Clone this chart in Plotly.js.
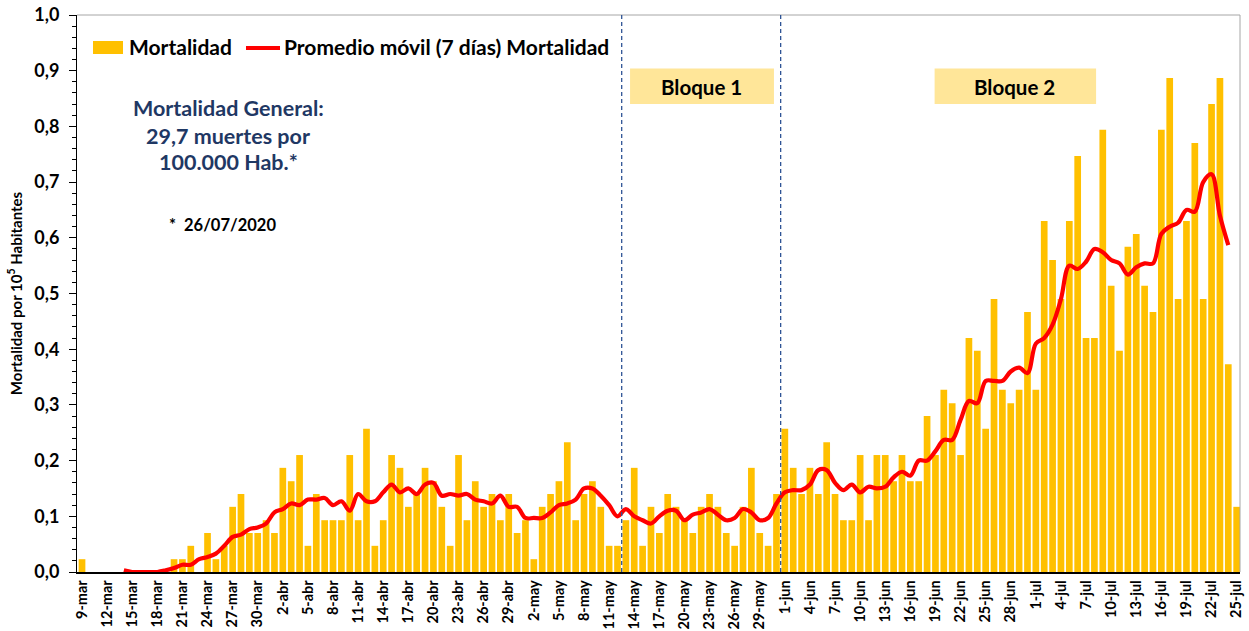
<!DOCTYPE html>
<html>
<head>
<meta charset="utf-8">
<script src="https://cdn.plot.ly/plotly-3.0.1.min.js"></script>
<style>html,body{margin:0;padding:0;background:#fff;}#chart{width:1249px;height:631px;}</style>
</head>
<body>
<div id="chart"></div>
<script>
// Daily categories (9-mar to 25-jul 2020)
const dates = [
 "9-mar","10-mar","11-mar","12-mar","13-mar","14-mar","15-mar","16-mar","17-mar","18-mar","19-mar","20-mar","21-mar","22-mar","23-mar","24-mar","25-mar","26-mar","27-mar","28-mar","29-mar","30-mar","31-mar",
 "1-abr","2-abr","3-abr","4-abr","5-abr","6-abr","7-abr","8-abr","9-abr","10-abr","11-abr","12-abr","13-abr","14-abr","15-abr","16-abr","17-abr","18-abr","19-abr","20-abr","21-abr","22-abr","23-abr","24-abr","25-abr","26-abr","27-abr","28-abr","29-abr","30-abr",
 "1-may","2-may","3-may","4-may","5-may","6-may","7-may","8-may","9-may","10-may","11-may","12-may","13-may","14-may","15-may","16-may","17-may","18-may","19-may","20-may","21-may","22-may","23-may","24-may","25-may","26-may","27-may","28-may","29-may","30-may","31-may",
 "1-jun","2-jun","3-jun","4-jun","5-jun","6-jun","7-jun","8-jun","9-jun","10-jun","11-jun","12-jun","13-jun","14-jun","15-jun","16-jun","17-jun","18-jun","19-jun","20-jun","21-jun","22-jun","23-jun","24-jun","25-jun","26-jun","27-jun","28-jun","29-jun","30-jun",
 "1-jul","2-jul","3-jul","4-jul","5-jul","6-jul","7-jul","8-jul","9-jul","10-jul","11-jul","12-jul","13-jul","14-jul","15-jul","16-jul","17-jul","18-jul","19-jul","20-jul","21-jul","22-jul","23-jul","24-jul","25-jul"
];

// Tick labels shown on the x axis (every 3 days)
const tickLabels = [
 "9-mar","12-mar","15-mar","18-mar","21-mar","24-mar","27-mar","30-mar",
 "2-abr","5-abr","8-abr","11-abr","14-abr","17-abr","20-abr","23-abr","26-abr","29-abr",
 "2-may","5-may","8-may","11-may","14-may","17-may","20-may","23-may","26-may","29-may",
 "1-jun","4-jun","7-jun","10-jun","13-jun","16-jun","19-jun","22-jun","25-jun","28-jun",
 "1-jul","4-jul","7-jul","10-jul","13-jul","16-jul","19-jul","22-jul","25-jul"
];

// Daily mortality per 10^5 inhabitants
const mortalidad = [
 0.023,0,0,0,0,0,0,0,0,0,0,0.023,0.023,0.047,0,0.070,0.023,0.047,0.117,0.140,0.070,0.070,0.093,
 0.070,0.187,0.163,0.210,0.047,0.140,0.093,0.093,0.093,0.210,0.093,0.257,0.047,0.093,0.210,0.187,0.117,0.140,0.187,0.163,0.117,0.047,0.210,0.093,0.163,0.117,0.140,0.093,0.140,0.070,
 0.093,0.023,0.117,0.140,0.163,0.233,0.093,0.140,0.163,0.117,0.047,0.047,0.093,0.187,0.047,0.117,0.070,0.140,0.117,0.093,0.070,0.117,0.140,0.117,0.070,0.047,0.117,0.187,0.070,0.047,0.140,
 0.257,0.187,0.140,0.187,0.140,0.233,0.140,0.093,0.093,0.210,0.093,0.210,0.210,0.163,0.210,0.163,0.163,0.280,0.210,0.327,0.303,0.210,0.420,0.397,0.257,0.490,0.327,0.303,0.327,0.467,
 0.327,0.630,0.560,0.490,0.630,0.747,0.420,0.420,0.794,0.514,0.397,0.584,0.607,0.514,0.467,0.794,0.887,0.490,0.630,0.770,0.490,0.840,0.887,0.373,0.117
];

// 7-day moving average as drawn (from 14-mar to 24-jul)
const promedioInicio = "14-mar";
const promedio = [
 0.003,0,0,0,0,0.003,0.007,0.013,0.013,0.023,0.027,0.033,0.047,0.063,0.067,0.077,0.080,0.087,
 0.107,0.113,0.123,0.120,0.130,0.130,0.133,0.120,0.127,0.110,0.140,0.127,0.127,0.143,0.157,0.143,0.150,0.140,0.157,0.160,0.137,0.140,0.137,0.140,0.130,0.127,0.123,0.137,0.117,
 0.117,0.097,0.097,0.097,0.107,0.120,0.123,0.130,0.150,0.150,0.137,0.120,0.100,0.113,0.100,0.093,0.087,0.100,0.110,0.110,0.093,0.103,0.107,0.113,0.103,0.093,0.097,0.113,0.107,0.093,0.097,
 0.123,0.143,0.147,0.147,0.157,0.183,0.183,0.160,0.147,0.157,0.143,0.153,0.150,0.153,0.170,0.180,0.173,0.200,0.200,0.217,0.237,0.237,0.273,0.307,0.303,0.343,0.343,0.343,0.360,0.367,0.357,
 0.410,0.420,0.444,0.490,0.550,0.544,0.557,0.580,0.574,0.560,0.554,0.534,0.547,0.554,0.554,0.607,0.620,0.627,0.650,0.647,0.700,0.714,0.640,0.587
];

const startIdx = dates.indexOf(promedioInicio);
const promedioX = dates.slice(startIdx, startIdx + promedio.length);

const FONT = "Lato, 'Noto Sans', 'Liberation Sans', sans-serif";

// pixel -> paper helpers (plot area: x 77..1240, y 15..572)
const L = 77, R = 9, T = 15, B = 59, W = 1249, H = 631;
const pw = W - L - R, ph = H - T - B;
const px = v => (v - L) / pw;
const py = v => (H - B - v) / ph;

const traces = [
  {
    type: 'bar', x: dates, y: mortalidad, name: 'Mortalidad',
    marker: {color: '#FFC000'}, hoverinfo: 'x+y'
  },
  {
    type: 'scatter', mode: 'lines', x: promedioX, y: promedio,
    name: 'Promedio móvil (7 días) Mortalidad',
    line: {color: '#FF0000', width: 4.2, shape: 'spline', smoothing: 1}
  }
];

const layout = {
  width: W, height: H,
  margin: {l: L, r: R, t: T, b: B, pad: 0},
  paper_bgcolor: '#ffffff', plot_bgcolor: '#ffffff',
  separators: ',.',
  showlegend: false,
  bargap: 0.2,
  font: {family: FONT, color: '#000'},
  xaxis: {
    type: 'category', range: [-0.6, 138.4],
    tickmode: 'array', tickvals: tickLabels, ticktext: tickLabels,
    tickangle: -90, tickfont: {family: FONT, size: 14.5, color: '#000', weight: 'bold'},
    ticklabelstandoff: 1,
    showline: true, linecolor: '#000', linewidth: 1.5,
    ticks: '', showgrid: false, zeroline: false, fixedrange: true
  },
  yaxis: {
    range: [0, 1], dtick: 0.1, tickformat: '.1f',
    ticks: 'outside', ticklen: 7, tickcolor: '#000', tickwidth: 1,
    minor: {dtick: 0.02, ticks: 'outside', ticklen: 4, tickcolor: '#000', tickwidth: 1},
    showline: true, linecolor: '#000', linewidth: 1,
    showgrid: false, zeroline: false,
    tickfont: {family: FONT, size: 18, color: '#000', weight: 'bold'},
    ticklabelstandoff: 6,
    title: {text: 'Mortalidad por 10<sup>5</sup> Habitantes', font: {family: FONT, size: 15, color: '#000', weight: 'bold'}, standoff: 8},
    fixedrange: true
  },
  shapes: [
    // plot border top/right
    {type: 'line', xref: 'paper', yref: 'paper', x0: 0, x1: 1, y0: 1, y1: 1, line: {color: '#A6A6A6', width: 1}},
    {type: 'line', xref: 'paper', yref: 'paper', x0: 1, x1: 1, y0: 0, y1: 1, line: {color: '#A6A6A6', width: 1}},
    // block boxes
    {type: 'rect', xref: 'x', yref: 'y', x0: 65.5, x1: 82.7, y0: 0.840, y1: 0.904, fillcolor: '#FFE699', line: {width: 0}, layer: 'below'},
    {type: 'rect', xref: 'x', yref: 'y', x0: 101.9, x1: 121.2, y0: 0.840, y1: 0.904, fillcolor: '#FFE699', line: {width: 0}, layer: 'below'},
    // block separators
    {type: 'line', xref: 'x', yref: 'paper', x0: 64.5, x1: 64.5, y0: 0, y1: 1, line: {color: '#2F5496', width: 1.3, dash: '4px,3px'}},
    {type: 'line', xref: 'x', yref: 'paper', x0: 83.5, x1: 83.5, y0: 0, y1: 1, line: {color: '#2F5496', width: 1.3, dash: '4px,3px'}},
    // legend swatches
    {type: 'rect', xref: 'paper', yref: 'paper', x0: px(93), x1: px(123), y0: py(54), y1: py(41), fillcolor: '#FFC000', line: {width: 0}},
    {type: 'line', xref: 'paper', yref: 'paper', x0: px(246), x1: px(280), y0: py(48), y1: py(48), line: {color: '#FF0000', width: 4.2}}
  ],
  annotations: [
    {xref: 'paper', yref: 'paper', x: px(127), y: py(47), xanchor: 'left', yanchor: 'middle', showarrow: false,
     text: 'Mortalidad', font: {family: FONT, size: 21, color: '#000', weight: 'bold'}},
    {xref: 'paper', yref: 'paper', x: px(282), y: py(47), xanchor: 'left', yanchor: 'middle', showarrow: false,
     text: 'Promedio móvil (7 días) Mortalidad', font: {family: FONT, size: 21, color: '#000', weight: 'bold'}},
    {xref: 'paper', yref: 'paper', x: px(228), y: py(108), xanchor: 'center', yanchor: 'middle', showarrow: false,
     text: 'Mortalidad General:', font: {family: FONT, size: 21.5, color: '#1F3864', weight: 'bold'}},
    {xref: 'paper', yref: 'paper', x: px(228), y: py(136), xanchor: 'center', yanchor: 'middle', showarrow: false,
     text: '29,7 muertes por', font: {family: FONT, size: 21.5, color: '#1F3864', weight: 'bold'}},
    {xref: 'paper', yref: 'paper', x: px(228), y: py(162), xanchor: 'center', yanchor: 'middle', showarrow: false,
     text: '100.000 Hab.*', font: {family: FONT, size: 21.5, color: '#1F3864', weight: 'bold'}},
    {xref: 'paper', yref: 'paper', x: px(222), y: py(225), xanchor: 'center', yanchor: 'middle', showarrow: false,
     text: '*  26/07/2020', font: {family: FONT, size: 16.5, color: '#000', weight: 'bold'}},
    {xref: 'x', yref: 'y', x: 74.0, y: 0.871, xanchor: 'center', yanchor: 'middle', showarrow: false,
     text: 'Bloque 1', font: {family: FONT, size: 20.5, color: '#000', weight: 'bold'}},
    {xref: 'x', yref: 'y', x: 111.5, y: 0.871, xanchor: 'center', yanchor: 'middle', showarrow: false,
     text: 'Bloque 2', font: {family: FONT, size: 20.5, color: '#000', weight: 'bold'}}
  ]
};

Plotly.newPlot('chart', traces, layout, {displayModeBar: false, staticPlot: true});
</script>
</body>
</html>
